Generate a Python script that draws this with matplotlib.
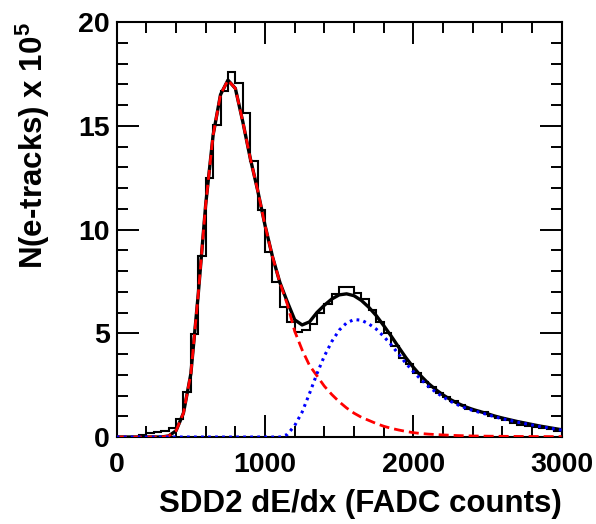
import numpy as np
import matplotlib
matplotlib.use("Agg")
import matplotlib.pyplot as plt
from matplotlib.ticker import MultipleLocator

# Histogram: bin edges (FADC counts) and counts (x 10^5)
bin_edges = np.arange(0, 3001, 50)
hist_counts = [0.0, 0.0, 0.02, 0.08, 0.17, 0.22, 0.30, 0.43, 0.87, 2.15,
               4.96, 8.72, 12.5, 15.04, 16.69, 17.61, 17.08, 15.6, 13.3, 10.94,
               8.93, 7.49, 6.25, 5.53, 5.08, 5.15, 5.45, 5.96, 6.42, 6.9,
               7.22, 7.24, 6.95, 6.63, 6.12, 5.55, 5.0, 4.39, 3.79, 3.52,
               3.07, 2.67, 2.4, 2.14, 1.94, 1.73, 1.54, 1.37, 1.25, 1.19,
               1.01, 0.9, 0.82, 0.69, 0.58, 0.53, 0.47, 0.42, 0.37, 0.30]

fit_x = np.arange(0, 3001, 50)
fit_red = [0, 0, 0, 0, 0, 0, 0, 0.05, 0.3, 1.15,
           3.05, 6.9, 11.2, 14.55, 16.5, 17.2, 16.8, 15.2, 13.45, 11.9,
           10.2, 8.7, 7.45, 6.4, 5.1, 4.2, 3.45, 2.95, 2.45, 2.05,
           1.7, 1.4, 1.15, 0.95, 0.8, 0.65, 0.52, 0.42, 0.34, 0.27,
           0.21, 0.17, 0.14, 0.12, 0.1, 0.085, 0.07, 0.06, 0.05, 0.045,
           0.04, 0.037, 0.034, 0.031, 0.028, 0.026, 0.024, 0.022, 0.021, 0.02, 0.02]
fit_blue = [0] * 22 + [0.0, 0.12, 0.55, 1.2, 2.1, 3.05, 3.9, 4.6,
                      5.15, 5.5, 5.66, 5.63, 5.45, 5.2, 4.85, 4.45, 4.0, 3.55,
                      3.15, 2.78, 2.45, 2.17, 1.93, 1.72, 1.55, 1.4, 1.28, 1.18,
                      1.08, 0.97, 0.88, 0.8, 0.72, 0.65, 0.58, 0.51, 0.45, 0.39, 0.33]
fit_total = np.array(fit_red) + np.array(fit_blue)

plt.rcParams['font.family'] = ['Liberation Sans', 'DejaVu Sans']
plt.rcParams['mathtext.fontset'] = 'custom'
plt.rcParams['mathtext.bf'] = 'Liberation Sans:bold'
plt.rcParams['mathtext.rm'] = 'Liberation Sans:bold'

fig = plt.figure(figsize=(5.96, 5.24), dpi=100)
ax = fig.add_axes([0.1958, 0.166, 0.7466, 0.792])

ax.stairs(hist_counts, bin_edges, color='black', lw=1.5, zorder=2)
ax.plot(fit_x, fit_total, color='black', lw=2.4, zorder=3)
ax.plot(fit_x, fit_red, color='#ff0000', lw=2.0, dashes=(3.6, 1.8), zorder=4)
ax.plot(fit_x, fit_blue, color='#0000ff', lw=2.2, dashes=(0.9, 1.4), zorder=4)

ax.set_xlim(0, 3000)
ax.set_ylim(0, 20)
ax.xaxis.set_major_locator(MultipleLocator(1000))
ax.xaxis.set_minor_locator(MultipleLocator(200))
ax.yaxis.set_major_locator(MultipleLocator(5))
ax.yaxis.set_minor_locator(MultipleLocator(1))
ax.tick_params(which='both', direction='in', top=True, right=True, width=1.4)
ax.tick_params(which='major', length=16)
ax.tick_params(which='minor', length=8)
ax.tick_params(axis='x', which='major', pad=11)
ax.tick_params(axis='y', which='major', pad=5)
for lab in ax.get_xticklabels() + ax.get_yticklabels():
    lab.set_fontsize(20.5)
    lab.set_fontweight('bold')
for sp in ax.spines.values():
    sp.set_linewidth(1.5)

ax.set_xlabel('SDD2 dE/dx (FADC counts)', fontsize=22.5, fontweight='bold',
              loc='right', labelpad=8)
ax.set_ylabel(r'N(e-tracks) x 10$^{\mathbf{5}}$', fontsize=22.5, fontweight='bold',
              loc='top', labelpad=19)

fig.savefig('out.png', dpi=100)
